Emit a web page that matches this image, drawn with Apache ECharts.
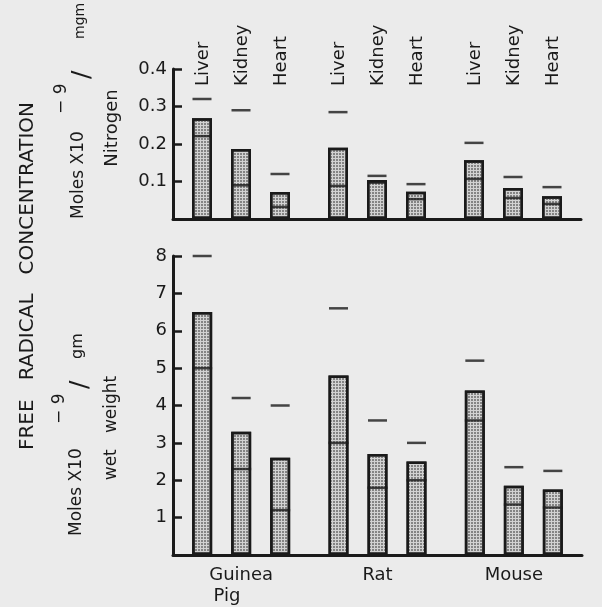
<!DOCTYPE html>
<html>
<head>
<meta charset="utf-8">
<script src="https://cdn.jsdelivr.net/npm/echarts@6/dist/echarts.min.js"></script>
<style>
html,body{margin:0;padding:0;background:#ebebeb;}
#chart{width:602px;height:607px;}
</style>
</head>
<body>
<div id="chart"></div>
<script>
// ---- data ----
const species = ['Guinea\nPig     ', 'Rat', 'Mouse'];
const tissues = ['Liver', 'Kidney', 'Heart'];
const nitroTicks = [0.1, 0.2, 0.3, 0.4];
const wetTicks = [1, 2, 3, 4, 5, 6, 7, 8];

// per nitrogen (top panel): bar top, inner line, upper dash — per tissue, ordered by species
const nitroTopLiver = [0.269, 0.190, 0.157];
const nitroTopKidney = [0.187, 0.104, 0.083];
const nitroTopHeart = [0.072, 0.073, 0.061];
const nitroMidLiver = [0.221, 0.088, 0.107];
const nitroMidKidney = [0.090, 0.097, 0.056];
const nitroMidHeart = [0.032, 0.053, 0.040];
const nitroMaxLiver = [0.320, 0.285, 0.203];
const nitroMaxKidney = [0.290, 0.115, 0.112];
const nitroMaxHeart = [0.120, 0.093, 0.085];

// per wet weight (bottom panel)
const wetTopLiver = [6.5, 4.8, 4.4];
const wetTopKidney = [3.3, 2.7, 1.85];
const wetTopHeart = [2.6, 2.5, 1.75];
const wetMidLiver = [5.0, 3.0, 3.6];
const wetMidKidney = [2.3, 1.8, 1.35];
const wetMidHeart = [1.2, 2.0, 1.27];
const wetMaxLiver = [8.0, 6.6, 5.2];
const wetMaxKidney = [4.2, 3.6, 2.35];
const wetMaxHeart = [4.0, 3.0, 2.25];

// ---- styling ----
const INK = '#1a1a1a';
const FONT = '"DejaVu Sans"';
const BAR_W = 20;
const STEP = 39;

const panels = [
  {tops: [nitroTopLiver, nitroTopKidney, nitroTopHeart],
   mids: [nitroMidLiver, nitroMidKidney, nitroMidHeart],
   maxs: [nitroMaxLiver, nitroMaxKidney, nitroMaxHeart]},
  {tops: [wetTopLiver, wetTopKidney, wetTopHeart],
   mids: [wetMidLiver, wetMidKidney, wetMidHeart],
   maxs: [wetMaxLiver, wetMaxKidney, wetMaxHeart]}
];

const series = [];
panels.forEach((p, g) => {
  tissues.forEach((t, i) => {
    series.push({
      type: 'bar', xAxisIndex: g, yAxisIndex: g, name: t,
      data: p.tops[i], barWidth: BAR_W, barGap: '95%', z: 2,
      itemStyle: {
        color: '#d2d2d2', borderColor: INK, borderWidth: 2.5,
        decal: {symbol: 'circle', symbolSize: 1, color: '#6a6a6a',
                dashArrayX: [2, 1], dashArrayY: [2, 1], rotation: 0}
      }
    });
  });
  tissues.forEach((t, i) => {
    series.push({
      type: 'scatter', xAxisIndex: g, yAxisIndex: g, z: 4,
      data: p.mids[i], symbol: 'rect', symbolSize: [BAR_W, 2.5],
      symbolOffset: [(i - 1) * STEP, 0], itemStyle: {color: INK}
    });
    series.push({
      type: 'scatter', xAxisIndex: g, yAxisIndex: g, z: 4,
      data: p.maxs[i], symbol: 'rect', symbolSize: [19, 2.5],
      symbolOffset: [(i - 1) * STEP, 0], itemStyle: {color: INK}
    });
  });
});

// tissue labels above the top panel
series.push({
  type: 'custom', xAxisIndex: 0, yAxisIndex: 0, z: 5,
  data: species.map((s, k) => [k]),
  renderItem: function (params, api) {
    const c = api.coord([api.value(0), nitroTicks[nitroTicks.length - 1]]);
    return {
      type: 'group',
      children: tissues.map((t, i) => ({
        type: 'text', x: c[0] + (i - 1) * STEP + 1, y: c[1] + 17, rotation: Math.PI / 2,
        style: {text: t, font: '18px ' + FONT, fill: INK, align: 'left', verticalAlign: 'middle'}
      }))
    };
  }
});

function yAxis(g, ticks) {
  return {
    type: 'value', gridIndex: g, min: 0, max: ticks[ticks.length - 1], interval: ticks[0],
    axisLine: {show: true, lineStyle: {color: INK, width: 3}},
    axisTick: {show: true, inside: true, length: 9, lineStyle: {color: INK, width: 2.5}},
    splitLine: {show: false},
    axisLabel: {color: INK, fontFamily: FONT, fontSize: 18, margin: 6,
      formatter: v => (v === 0 ? '' : String(v))}
  };
}

const option = {
  backgroundColor: '#ebebeb',
  animation: false,
  grid: [
    {left: 173, top: 69, width: 408, height: 150},
    {left: 173, top: 256, width: 409, height: 304}
  ],
  xAxis: [
    {type: 'category', gridIndex: 0, data: species,
     axisLine: {lineStyle: {color: INK, width: 3}}, axisTick: {show: false}, axisLabel: {show: false}},
    {type: 'category', gridIndex: 1, data: species,
     axisLine: {lineStyle: {color: INK, width: 3}}, axisTick: {show: false},
     axisLabel: {color: INK, fontFamily: FONT, fontSize: 18, margin: 10, lineHeight: 21}}
  ],
  yAxis: [yAxis(0, nitroTicks), yAxis(1, wetTicks)],
  graphic: [
    {type: 'text', x: 28, y: 276, rotation: Math.PI / 2,
     style: {text: 'FREE   RADICAL   CONCENTRATION', font: '20px ' + FONT, fill: INK, align: 'center', verticalAlign: 'middle'}},
    // top panel unit label
    {type: 'text', x: 79, y: 219, rotation: Math.PI / 2,
     style: {text: 'Moles X10', font: '17px ' + FONT, fill: INK, align: 'left', verticalAlign: 'middle'}},
    {type: 'text', x: 62, y: 114, rotation: Math.PI / 2,
     style: {text: '− 9', font: '17px ' + FONT, fill: INK, align: 'left', verticalAlign: 'middle'}},
    {type: 'text', x: 82, y: 79, rotation: Math.PI / 2,
     style: {text: '/', font: '25px ' + FONT, fill: INK, align: 'left', verticalAlign: 'middle'}},
    {type: 'text', x: 80, y: 39, rotation: Math.PI / 2,
     style: {text: 'mgm', font: '14px ' + FONT, fill: INK, align: 'left', verticalAlign: 'middle'}},
    {type: 'text', x: 112, y: 128, rotation: Math.PI / 2,
     style: {text: 'Nitrogen', font: '18px ' + FONT, fill: INK, align: 'center', verticalAlign: 'middle'}},
    // bottom panel unit label
    {type: 'text', x: 77, y: 536, rotation: Math.PI / 2,
     style: {text: 'Moles X10', font: '17px ' + FONT, fill: INK, align: 'left', verticalAlign: 'middle'}},
    {type: 'text', x: 60, y: 424, rotation: Math.PI / 2,
     style: {text: '− 9', font: '17px ' + FONT, fill: INK, align: 'left', verticalAlign: 'middle'}},
    {type: 'text', x: 80, y: 389, rotation: Math.PI / 2,
     style: {text: '/', font: '25px ' + FONT, fill: INK, align: 'left', verticalAlign: 'middle'}},
    {type: 'text', x: 78, y: 359, rotation: Math.PI / 2,
     style: {text: 'gm', font: '16px ' + FONT, fill: INK, align: 'left', verticalAlign: 'middle'}},
    {type: 'text', x: 112, y: 428, rotation: Math.PI / 2,
     style: {text: 'wet   weight', font: '17px ' + FONT, fill: INK, align: 'center', verticalAlign: 'middle'}}
  ],
  series: series
};

const chart = echarts.init(document.getElementById('chart'), null, {renderer: 'canvas'});
chart.setOption(option);
</script>
</body>
</html>
